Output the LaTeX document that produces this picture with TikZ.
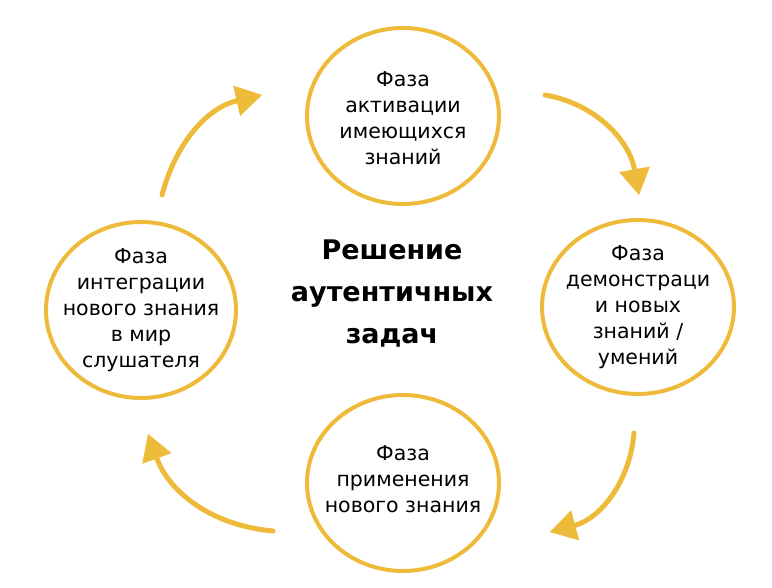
\documentclass[tikz,border=0pt]{standalone}
\usepackage{fontspec}
\setmainfont{DejaVu Sans}
\usetikzlibrary{arrows.meta}
\definecolor{gold}{RGB}{238,186,58}

\begin{document}
\begin{tikzpicture}[
    x=1pt, y=1pt,
    >={Triangle[length=26pt, width=31pt, line width=0.5pt]},
    phase/.style={align=center, font=\fontsize{20.5}{26}\selectfont},
    ring/.style={draw=gold, line width=4pt},
    title/.style={align=center, font=\fontsize{27}{42}\selectfont\bfseries},
    flow/.style={->, draw=gold, line width=5pt, line cap=round}
  ]
  \useasboundingbox (0,0) rectangle (772,588);

  % the four phases round the task
  \node[phase] (act)   at (403,470) {Фаза\\активации\\имеющихся\\знаний};
  \node[phase] (demo)  at (638,281) {Фаза\\демонстраци\\и новых\\знаний /\\умений};
  \node[phase] (appl)  at (403,109) {Фаза\\применения\\нового знания};
  \node[phase] (integ) at (141,278) {Фаза\\интеграции\\нового знания\\в мир\\слушателя};
  \node[title] (task)  at (392,294) {Решение\\аутентичных\\задач};

  \draw[ring] ([yshift=2pt]act.center) ellipse[x radius=96, y radius=88];
  \draw[ring] (demo.center) ellipse[x radius=96, y radius=87];
  \draw[ring] ([yshift=-4pt]appl.center) ellipse[x radius=96, y radius=88];
  \draw[ring] (integ.center) ellipse[x radius=95, y radius=88];

  % arrow ends
  \coordinate (a1s) at (545,493);
  \coordinate (a1e) at (639,393);
  \coordinate (a2s) at (634,155);
  \coordinate (a2e) at (550,56);
  \coordinate (a3s) at (273,57);
  \coordinate (a3e) at (148,154);
  \coordinate (a4s) at (162,393);
  \coordinate (a4e) at (262,493);

  \draw[flow] (a1s) to[out=-10, in=100] (a1e);
  \draw[flow] (a2s) to[out=-95, in=15] (a2e);
  \draw[flow] (a3s) to[out=175, in=-70] (a3e);
  \draw[flow] (a4s) to[out=75, in=193] (a4e);
\end{tikzpicture}
\end{document}
